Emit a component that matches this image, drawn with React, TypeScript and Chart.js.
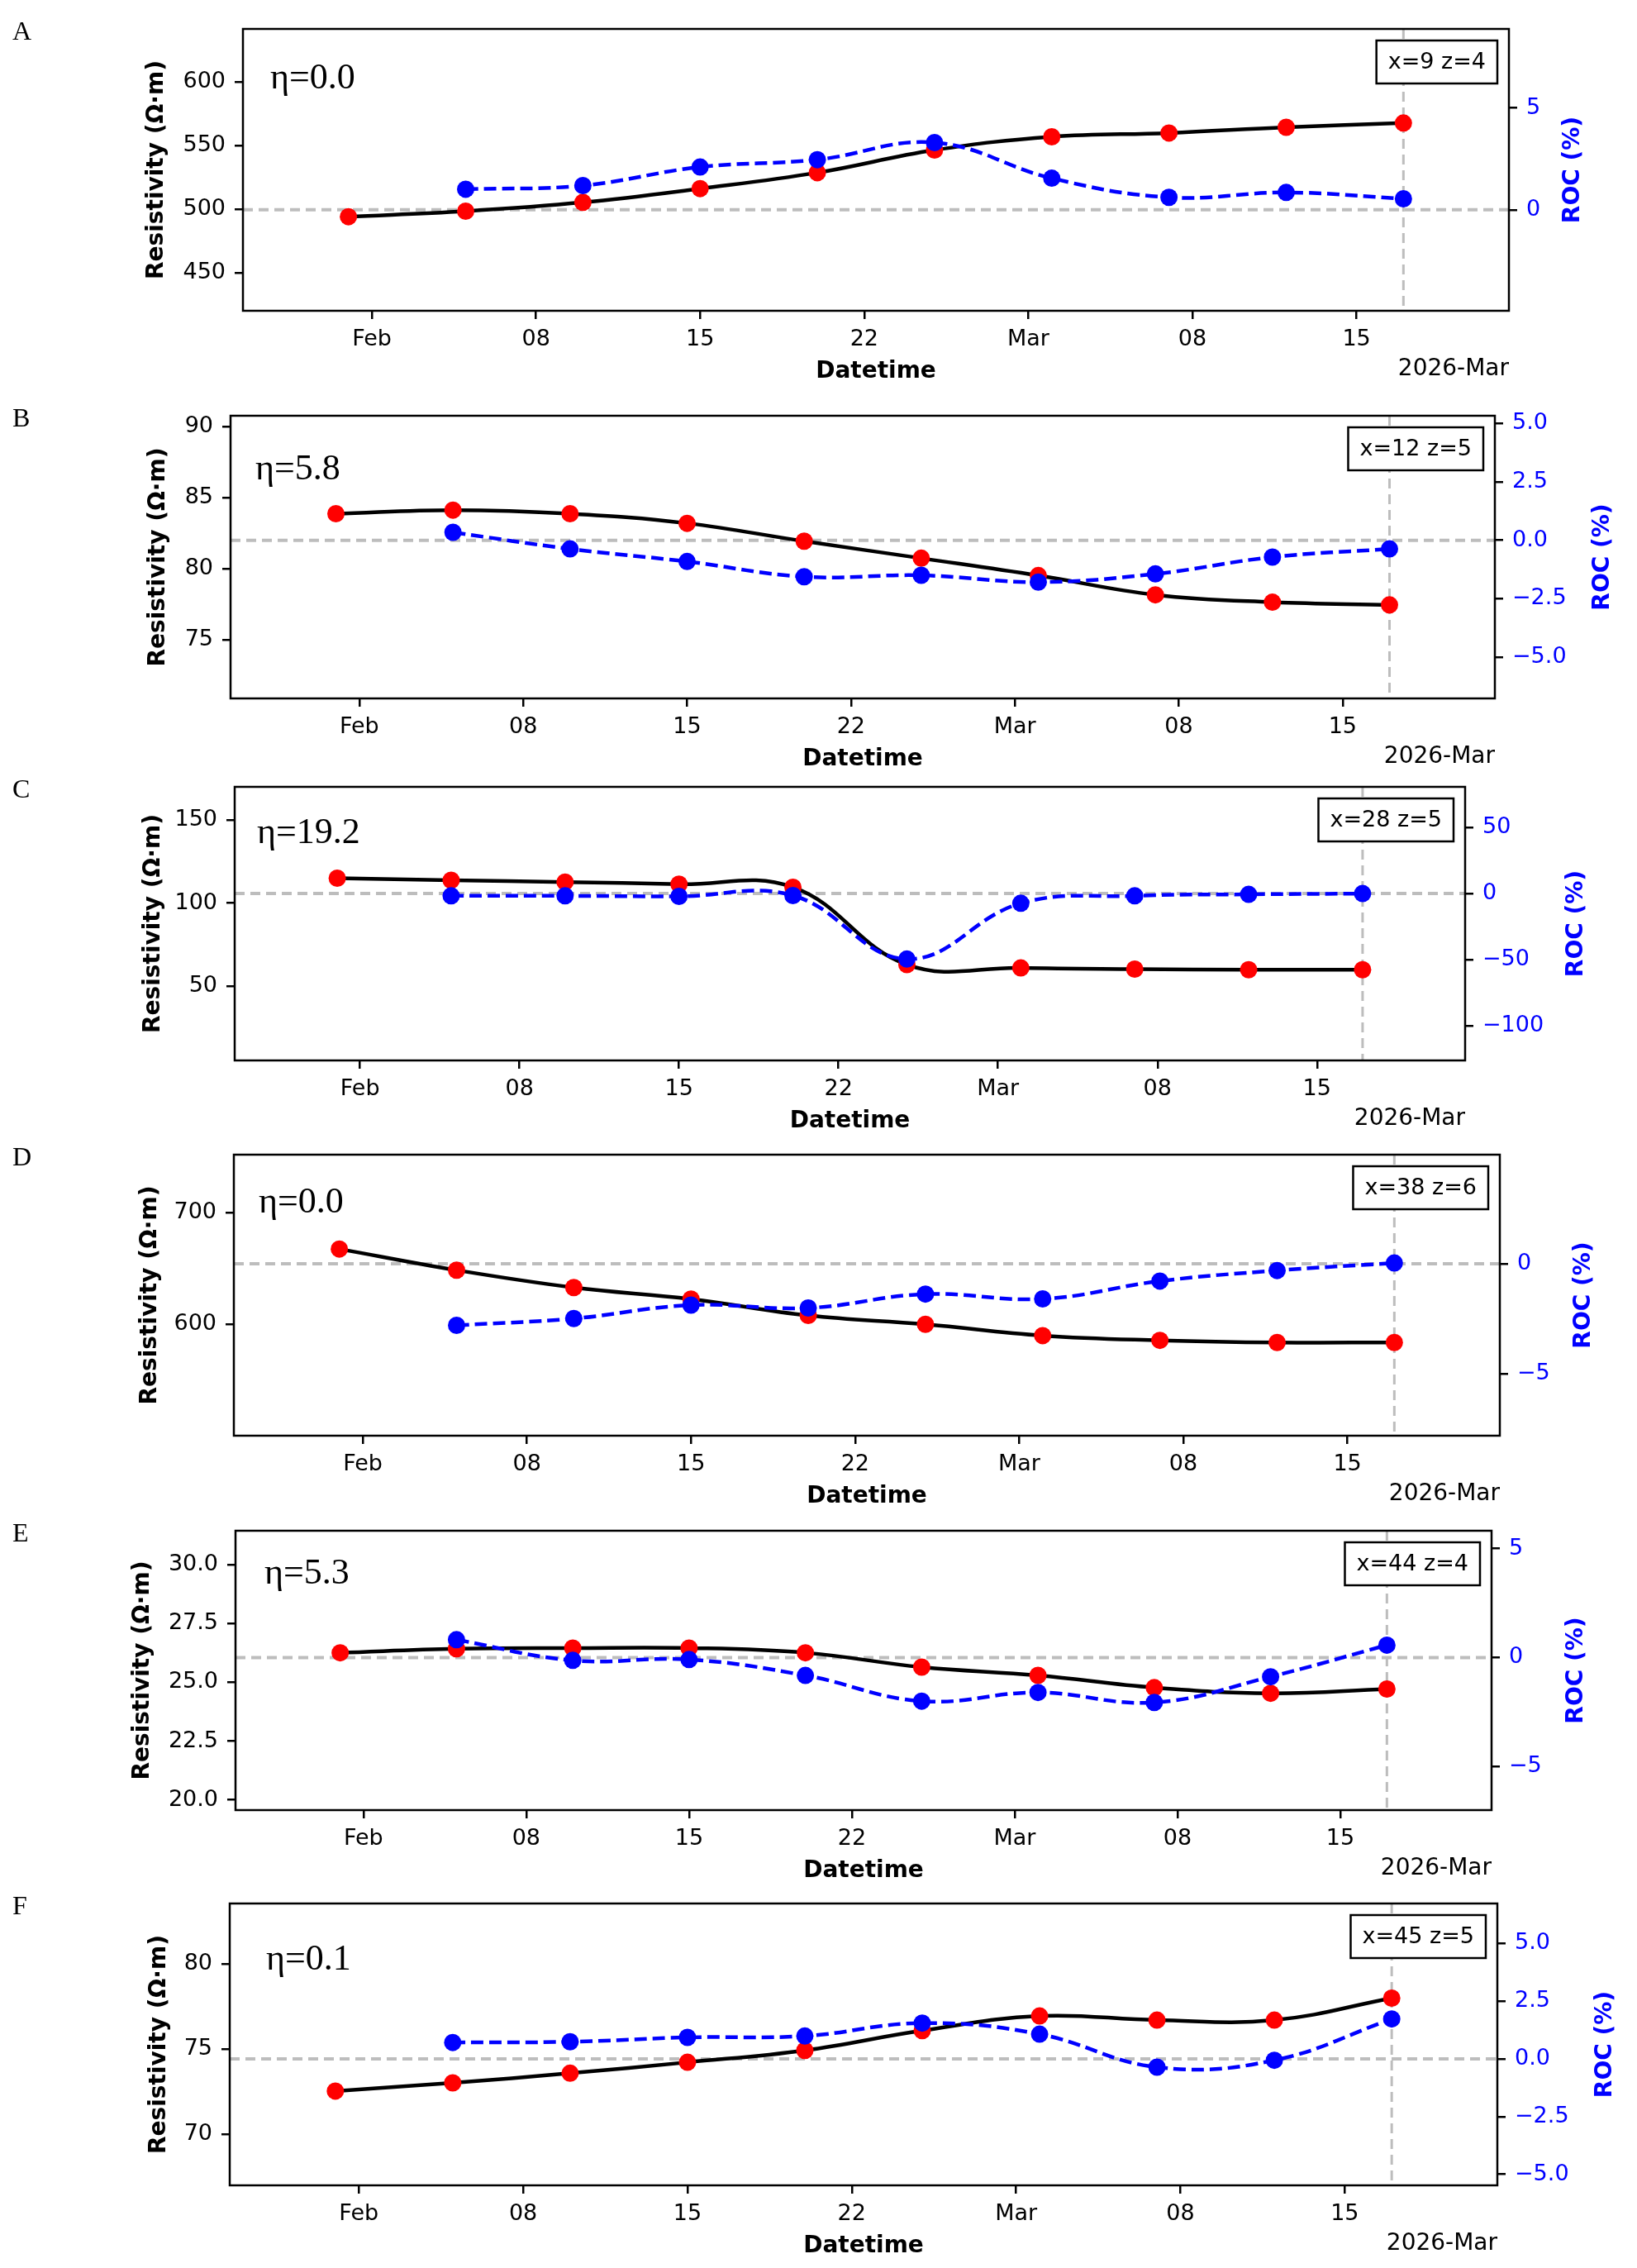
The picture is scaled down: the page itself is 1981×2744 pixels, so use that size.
import React, { useEffect, useRef } from 'react';
import { Chart, registerables } from 'chart.js';

Chart.register(...registerables);

// ---------- data ----------
const dates = ['2026-01-31', '2026-02-05', '2026-02-10', '2026-02-15', '2026-02-20', '2026-02-25', '2026-03-02', '2026-03-07', '2026-03-12', '2026-03-17'];
const rocDates = dates.slice(1);
const tickDates = ['2026-02-01', '2026-02-08', '2026-02-15', '2026-02-22', '2026-03-01', '2026-03-08', '2026-03-15'];
const tickLabels = ['Feb', '08', '15', '22', 'Mar', '08', '15'];
const xRange = ['2026-01-26T12:00', '2026-03-21T12:00'];
const markerDate = '2026-03-17';

const panelLetters = ['A', 'B', 'C', 'D', 'E', 'F'];
const etaLabels = ['η=0.0', 'η=5.8', 'η=19.2', 'η=0.0', 'η=5.3', 'η=0.1'];
const boxLabels = ['x=9 z=4', 'x=12 z=5', 'x=28 z=5', 'x=38 z=6', 'x=44 z=4', 'x=45 z=5'];

const resA = [494.2, 498.5, 505.4, 516.2, 528.7, 546.4, 556.8, 559.8, 564.3, 567.6];
const rocA = [1.01, 1.19, 2.1, 2.46, 3.3, 1.55, 0.61, 0.85, 0.54];
const resB = [83.88, 84.13, 83.88, 83.2, 81.94, 80.74, 79.52, 78.16, 77.64, 77.45];
const rocB = [0.34, -0.37, -0.91, -1.56, -1.5, -1.79, -1.44, -0.72, -0.37];
const resC = [114.9, 113.7, 112.6, 111.3, 109.5, 63.0, 61.0, 60.3, 59.9, 59.9];
const rocC = [-1.7, -1.7, -2.1, -1.5, -49.4, -7.3, -1.7, -0.6, 0.0];
const resD = [667.3, 648.4, 632.9, 622.6, 607.9, 600.0, 589.9, 585.7, 583.8, 583.8];
const rocD = [-2.8, -2.49, -1.88, -2.01, -1.38, -1.6, -0.79, -0.31, 0.03];
const resE = [26.25, 26.42, 26.45, 26.45, 26.25, 25.64, 25.29, 24.77, 24.53, 24.71];
const rocE = [0.82, -0.13, -0.09, -0.82, -2.0, -1.6, -2.06, -0.88, 0.57];
const resF = [72.52, 73.0, 73.57, 74.21, 74.91, 76.07, 76.93, 76.69, 76.69, 77.98];
const rocF = [0.71, 0.74, 0.93, 0.99, 1.55, 1.07, -0.36, -0.06, 1.73];

const resSeries = [resA, resB, resC, resD, resE, resF];
const rocSeries = [rocA, rocB, rocC, rocD, rocE, rocF];

// axis limits and tick values
const resLimits = [[420.4, 641.4], [70.86, 90.78], [5.4, 169.8], [500.5, 751.6], [19.57, 31.43], [66.98, 83.54]];
const rocLimits = [[-4.96, 8.88], [-6.77, 5.33], [-125.9, 80.5], [-7.81, 4.95], [-7.0, 5.82], [-5.48, 6.73]];
const resTicks = [[450, 500, 550, 600], [75, 80, 85, 90], [50, 100, 150], [600, 700], [20, 22.5, 25, 27.5, 30], [70, 75, 80]];
const rocTicks = [[0, 5], [-5, -2.5, 0, 2.5, 5], [-100, -50, 0, 50], [-5, 0], [-5, 0, 5], [-5, -2.5, 0, 2.5, 5]];
const resDecimals = [0, 0, 0, 0, 1, 0];
const rocDecimals = [0, 1, 0, 0, 0, 1];

// ---------- layout (page pixels) ----------
const layout = [
  { top: 35, bottom: 376, left: 294, right: 1826, yTitleX: 190, rTitleX: 1904, etaDx: 33, etaDy: 72 },
  { top: 503, bottom: 845, left: 279, right: 1809, yTitleX: 192, rTitleX: 1940, etaDx: 30, etaDy: 77 },
  { top: 952, bottom: 1283, left: 284, right: 1773, yTitleX: 186, rTitleX: 1908, etaDx: 27, etaDy: 68 },
  { top: 1397, bottom: 1737, left: 283, right: 1815, yTitleX: 182, rTitleX: 1917, etaDx: 30, etaDy: 70 },
  { top: 1852, bottom: 2190, left: 285, right: 1805, yTitleX: 173, rTitleX: 1908, etaDx: 35, etaDy: 64 },
  { top: 2303, bottom: 2644, left: 278, right: 1812, yTitleX: 193, rTitleX: 1943, etaDx: 44, etaDy: 80 },
];
const PAGE_W = 1981;
const PAGE_H = 2744;
const TOP_PAD = 35;
const X_AXIS_H = 95;

const SANS = 'DejaVu Sans';
const SERIF = '"Liberation Serif", "DejaVu Serif", serif';

const BASE = Date.UTC(2026, 1, 1);
function dayOf(s: string): number {
  const [d, t] = s.split('T');
  const [y, m, dd] = d.split('-').map(Number);
  let ms = Date.UTC(y, m - 1, dd);
  if (t) {
    const [hh, mm] = t.split(':').map(Number);
    ms += (hh * 60 + mm) * 60000;
  }
  return (ms - BASE) / 86400000;
}

function fmt(v: number, dec: number): string {
  const s = Math.abs(v).toFixed(dec);
  return v < 0 ? '\u2212' + s : s;
}

function Panel({ idx }: { idx: number }) {
  const ref = useRef<HTMLCanvasElement | null>(null);
  const L = layout[idx];
  const canvasTop = L.top - TOP_PAD;
  const canvasH = L.bottom - L.top + TOP_PAD + X_AXIS_H;

  useEffect(() => {
    const canvas = ref.current;
    if (!canvas) return;
    const res = resSeries[idx];
    const roc = rocSeries[idx];
    const tickDays = tickDates.map(dayOf);

    const decor = {
      id: 'decor' + idx,
      beforeDatasetsDraw(chart: any) {
        const { ctx, chartArea: a, scales } = chart;
        ctx.save();
        ctx.beginPath();
        ctx.rect(a.left, a.top, a.right - a.left, a.bottom - a.top);
        ctx.clip();
        ctx.strokeStyle = '#bdbdbd';
        ctx.lineWidth = 4;
        ctx.setLineDash([12, 7]);
        const y0 = scales.y1.getPixelForValue(0);
        ctx.beginPath();
        ctx.moveTo(a.left, y0);
        ctx.lineTo(a.right, y0);
        ctx.stroke();
        const xm = scales.x.getPixelForValue(dayOf(markerDate));
        ctx.lineWidth = 3;
        ctx.beginPath();
        ctx.moveTo(xm, a.top);
        ctx.lineTo(xm, a.bottom);
        ctx.stroke();
        ctx.restore();
      },
      afterDraw(chart: any) {
        const { ctx, chartArea: a } = chart;
        ctx.save();
        // frame
        ctx.strokeStyle = '#000';
        ctx.lineWidth = 2.5;
        ctx.setLineDash([]);
        ctx.strokeRect(a.left, a.top, a.right - a.left, a.bottom - a.top);

        // panel letter
        ctx.fillStyle = '#000';
        ctx.font = `32px ${SERIF}`;
        ctx.textAlign = 'left';
        ctx.textBaseline = 'alphabetic';
        ctx.fillText(panelLetters[idx], 15, a.top + 13);

        // eta label
        ctx.font = `44px ${SERIF}`;
        ctx.fillText(etaLabels[idx], a.left + L.etaDx, a.top + L.etaDy);

        // box label
        ctx.font = `27px ${SANS}`;
        const tw = ctx.measureText(boxLabels[idx]).width;
        const bw = tw + 28;
        const bh = 52;
        const bx = a.right - 14 - bw;
        const by = a.top + 14;
        ctx.fillStyle = '#fff';
        ctx.fillRect(bx, by, bw, bh);
        ctx.strokeStyle = '#000';
        ctx.lineWidth = 2.5;
        ctx.strokeRect(bx, by, bw, bh);
        ctx.fillStyle = '#000';
        ctx.textAlign = 'center';
        ctx.textBaseline = 'middle';
        ctx.fillText(boxLabels[idx], bx + bw / 2, by + bh / 2 + 1);

        // x title and offset label
        ctx.font = `bold 28px ${SANS}`;
        ctx.textBaseline = 'alphabetic';
        ctx.textAlign = 'center';
        ctx.fillText('Datetime', (a.left + a.right) / 2, a.bottom + 81);
        ctx.font = `28px ${SANS}`;
        ctx.textAlign = 'right';
        ctx.fillText('2026-Mar', a.right, a.bottom + 78);

        // y titles
        const cy = (a.top + a.bottom) / 2;
        ctx.font = `bold 28px ${SANS}`;
        ctx.textAlign = 'center';
        ctx.textBaseline = 'middle';
        ctx.save();
        ctx.translate(L.yTitleX, cy);
        ctx.rotate(-Math.PI / 2);
        ctx.fillText('Resistivity (Ω·m)', 0, 0);
        ctx.restore();
        ctx.save();
        ctx.fillStyle = '#0000ff';
        ctx.translate(L.rTitleX, cy);
        ctx.rotate(-Math.PI / 2);
        ctx.fillText('ROC (%)', 0, 0);
        ctx.restore();

        ctx.restore();
      },
    };

    const tickFont = { family: SANS, size: 27 };
    const gridCommon = { drawOnChartArea: false, drawTicks: true, tickLength: 10, color: '#000', lineWidth: 2.5 };

    const chart = new Chart(canvas, {
      type: 'line',
      data: {
        datasets: [
          {
            label: 'Resistivity',
            data: res.map((v, i) => ({ x: dayOf(dates[i]), y: v })),
            yAxisID: 'y',
            borderColor: '#000000',
            borderWidth: 4.5,
            tension: 0.4,
            pointRadius: 10.5,
            pointHoverRadius: 10.5,
            pointBackgroundColor: '#ff0000',
            pointBorderColor: '#ff0000',
            pointBorderWidth: 0,
            fill: false,
            order: 2,
          },
          {
            label: 'ROC',
            data: roc.map((v, i) => ({ x: dayOf(rocDates[i]), y: v })),
            yAxisID: 'y1',
            borderColor: '#0000ff',
            borderWidth: 4.5,
            borderDash: [15, 7],
            tension: 0.4,
            pointRadius: 10.5,
            pointHoverRadius: 10.5,
            pointBackgroundColor: '#0000ff',
            pointBorderColor: '#0000ff',
            pointBorderWidth: 0,
            fill: false,
            order: 1,
          },
        ],
      },
      options: {
        animation: false,
        responsive: false,
        maintainAspectRatio: false,
        devicePixelRatio: 1,
        events: [],
        layout: { padding: { top: TOP_PAD, left: 0, right: 0, bottom: 0 } },
        plugins: { legend: { display: false }, tooltip: { enabled: false }, title: { display: false } },
        scales: {
          x: {
            type: 'linear',
            min: dayOf(xRange[0]),
            max: dayOf(xRange[1]),
            afterBuildTicks: (s: any) => {
              s.ticks = tickDays.map((v) => ({ value: v }));
            },
            afterFit: (s: any) => {
              s.height = X_AXIS_H;
            },
            ticks: {
              font: tickFont,
              color: '#000',
              padding: 9,
              maxRotation: 0,
              autoSkip: false,
              callback: (_v: any, i: number) => tickLabels[i],
            },
            grid: gridCommon,
            border: { display: false },
          },
          y: {
            type: 'linear',
            position: 'left',
            min: resLimits[idx][0],
            max: resLimits[idx][1],
            afterBuildTicks: (s: any) => {
              s.ticks = resTicks[idx].map((v) => ({ value: v }));
            },
            afterFit: (s: any) => {
              s.width = L.left;
            },
            ticks: {
              font: tickFont,
              color: '#000',
              padding: 11,
              callback: (v: any) => fmt(Number(v), resDecimals[idx]),
            },
            grid: gridCommon,
            border: { display: false },
          },
          y1: {
            type: 'linear',
            position: 'right',
            min: rocLimits[idx][0],
            max: rocLimits[idx][1],
            afterBuildTicks: (s: any) => {
              s.ticks = rocTicks[idx].map((v) => ({ value: v }));
            },
            afterFit: (s: any) => {
              s.width = PAGE_W - L.right;
            },
            ticks: {
              font: tickFont,
              color: '#0000ff',
              padding: 11,
              callback: (v: any) => fmt(Number(v), rocDecimals[idx]),
            },
            grid: gridCommon,
            border: { display: false },
          },
        },
      },
      plugins: [decor],
    } as any);

    return () => {
      chart.destroy();
    };
  }, [idx]);

  return (
    <canvas
      ref={ref}
      width={PAGE_W}
      height={canvasH}
      style={{ position: 'absolute', left: 0, top: canvasTop, width: PAGE_W, height: canvasH }}
    />
  );
}

export default function App() {
  useEffect(() => {
    document.body.style.margin = '0';
    document.body.style.background = '#ffffff';
  }, []);
  return (
    <div style={{ position: 'relative', width: PAGE_W, height: PAGE_H, background: '#fff', overflow: 'hidden' }}>
      {layout.map((_, i) => (
        <Panel key={i} idx={i} />
      ))}
    </div>
  );
}
